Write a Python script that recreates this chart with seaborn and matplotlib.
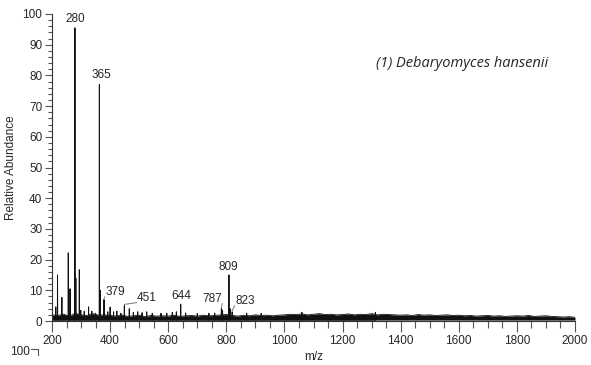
import numpy as np
import pandas as pd
import matplotlib
matplotlib.use("Agg")
import matplotlib.pyplot as plt
import seaborn as sns
from matplotlib.ticker import MultipleLocator
from matplotlib.lines import Line2D

# ---- data ----
peak_mz = [201, 213, 219, 234, 256, 262, 279, 282, 294, 299, 311, 326, 337, 350,
           363, 366, 379, 392, 400, 412, 423, 437, 449, 466, 480, 495, 510, 526,
           545, 575, 595, 614, 628, 643, 660, 700, 740, 760, 783, 787, 809, 813,
           820, 870, 920, 1060, 1313]
peak_int = [5.2, 4.6, 15.0, 7.7, 22.2, 10.5, 95.5, 14.0, 16.7, 3.5, 3.2, 4.6, 3.2, 2.5,
            77.0, 10.0, 7.0, 3.0, 4.5, 3.0, 3.2, 2.5, 5.0, 4.0, 2.8, 3.0, 2.7, 3.0,
            2.5, 2.5, 2.5, 2.8, 3.0, 5.5, 2.6, 2.4, 2.5, 2.6, 4.2, 3.5, 15.0, 4.0,
            3.0, 2.6, 2.5, 2.8, 2.8]

base_mz = list(range(200, 2001, 20))
base_top = [2.0, 1.8, 2.2, 1.6, 2.5, 2.0, 1.8, 2.4, 1.9, 2.0,
            1.8, 1.6, 2.0, 1.5, 1.7, 1.9, 1.4, 1.8, 1.6, 1.7,
            1.6, 1.9, 1.5, 1.7, 1.8, 1.6, 1.9, 1.7, 1.8, 2.0,
            2.1, 1.8, 1.6, 1.9, 1.7, 2.0, 1.8, 1.9, 1.7, 1.9,
            2.0, 2.2, 2.1, 2.3, 2.0, 2.2, 2.4, 2.1, 2.2, 2.0,
            2.1, 2.3, 2.0, 2.2, 2.1, 2.4, 2.0, 2.2, 2.1, 2.0,
            1.9, 2.0, 1.8, 2.1, 1.9, 2.0, 1.8, 1.9, 2.0, 1.8,
            1.9, 1.7, 1.8, 1.6, 1.7, 1.8, 1.6, 1.7, 1.5, 1.6,
            1.7, 1.6, 1.8, 1.5, 1.6, 1.7, 1.5, 1.4, 1.3, 1.4,
            1.2]
base_floor = 0.3

# labelled peaks
lab_text = ["280", "365", "379", "451", "644", "787", "809", "823"]
lab_peak_x = [279, 363, 379, 449, 643, 783, 809, 820]
lab_peak_y = [95.5, 77.0, 7.0, 5.0, 5.5, 4.2, 15.0, 3.0]
lab_x = [279, 369, 417, 527, 644, 751, 806, 864]
lab_y = [98.4, 80.0, 9.4, 7.5, 8.1, 7.2, 17.6, 6.5]

title = "(1) Debaryomyces hansenii"

# ---- build stick profile ----
xs, ys = [], []
for m, h in zip(peak_mz, peak_int):
    xs += [m - 0.6, m, m + 0.6]
    ys += [base_floor, h, base_floor]
prof = pd.DataFrame({"mz": xs, "int": ys})

sns.set_theme(style="ticks")
plt.rcParams["font.family"] = ["Liberation Sans", "DejaVu Sans"]

fig = plt.figure(figsize=(5.91, 3.65), dpi=100)
ax = fig.add_axes([52/591, 1 - 321/365, (575-52)/591, (321-14)/365])

ax.fill_between(base_mz, base_floor, base_top, color="#111111", lw=0)
sns.lineplot(x=base_mz, y=base_top, ax=ax, color="#111111", lw=0.6, estimator=None)
sns.lineplot(data=prof, x="mz", y="int", ax=ax, color="#111111", lw=0.7,
             estimator=None, sort=True)

ax.set_xlim(200, 2000)
ax.set_ylim(0, 100)
ax.xaxis.set_major_locator(MultipleLocator(200))
ax.xaxis.set_minor_locator(MultipleLocator(50))
ax.yaxis.set_major_locator(MultipleLocator(10))
ax.yaxis.set_minor_locator(MultipleLocator(2))
ax.tick_params(axis="both", which="major", labelsize=8.5, length=5, width=0.8,
               color="#555555", pad=2)
ax.tick_params(axis="both", which="minor", length=3, width=0.8, color="#555555")
ax.tick_params(axis="x", which="major", length=8)
ax.tick_params(axis="x", which="minor", length=5)
for s in ["top", "right"]:
    ax.spines[s].set_visible(False)
for s in ["left", "bottom"]:
    ax.spines[s].set_linewidth(0.8)
    ax.spines[s].set_color("#333333")

ax.set_xlabel("m/z", fontsize=8.5, labelpad=3)
ax.set_ylabel("Relative Abundance", fontsize=8.5, labelpad=4)

for t, px, py, tx, ty in zip(lab_text, lab_peak_x, lab_peak_y, lab_x, lab_y):
    ax.text(tx, ty, t, ha="center", va="center", fontsize=8.5)
    if abs(tx - px) > 15:
        ex = tx - 35 if tx > px else tx + 35
        ax.plot([px, ex], [py + 0.4, ty - 1.5], color="#777777", lw=0.7)

ax.text(1612, 84, title, ha="center", va="center", fontsize=10.5,
        style="italic", family=["Open Sans", "DejaVu Sans"])

# start of the next panel visible at the bottom
fig.text(10/591, 1 - 352/365, "100", fontsize=8.5, va="center", ha="left")
fig.add_artist(Line2D([31/591, 38/591, 38/591],
                      [1 - 349/365, 1 - 349/365, 1 - 355/365],
                      color="#555555", lw=0.8))

fig.savefig("out.png", dpi=100)
